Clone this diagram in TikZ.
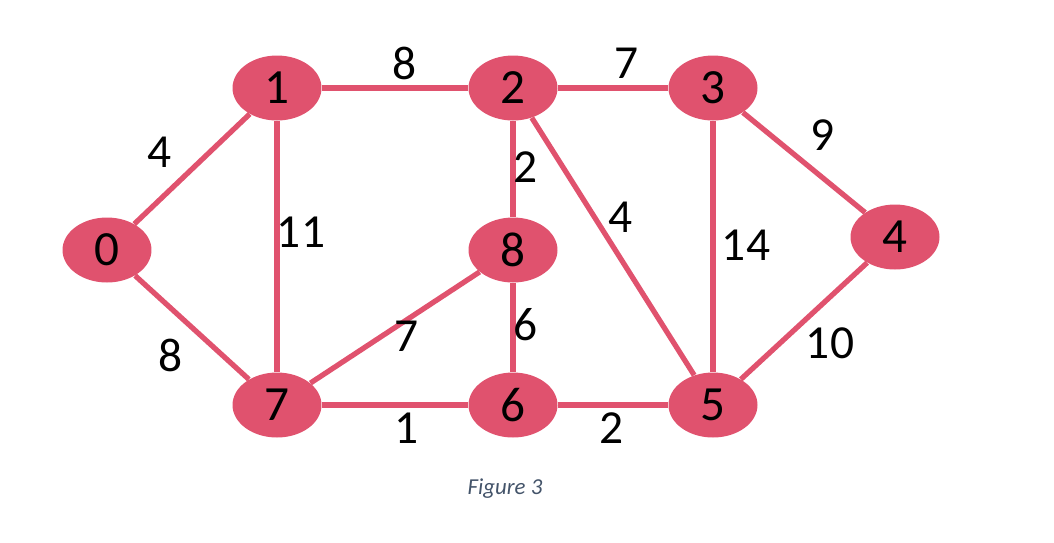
\documentclass[tikz,border=0pt]{standalone}
\usepackage{fontspec}
\setmainfont{Carlito}
\usepackage{tikz}
\usetikzlibrary{shapes,positioning,calc}
\definecolor{vertex}{RGB}{224,82,110}
\definecolor{capcol}{RGB}{68,84,106}
\tikzset{
  vert/.style={ellipse,fill=vertex,minimum width=1.78cm,minimum height=1.3cm,inner sep=0pt,font=\fontsize{28}{28}\selectfont},
  wt/.style={inner sep=0pt,font=\fontsize{27}{27}\selectfont},
  edge/.style={draw=vertex,line width=3pt}
}
\begin{document}
\begin{tikzpicture}[x=0.02cm,y=-0.02cm]
\useasboundingbox (0,0) rectangle (1054,542);
% vertices
\node[vert] (v0) at (107,250) {0};
\node[vert] (v1) at (277,88) {1};
\node[vert] (v2) at (513,88) {2};
\node[vert] (v3) at (713,88) {3};
\node[vert] (v4) at (895,237) {4};
\node[vert] (v8) at (513,250) {8};
\node[vert] (v7) at (277,405) {7};
\node[vert] (v6) at (513,405) {6};
\node[vert] (v5) at (713,405) {5};
% edges
\draw[edge] (v0) -- (v1);
\draw[edge] (v0) -- (v7);
\draw[edge] (v1) -- (v2);
\draw[edge] (v1) -- (v7);
\draw[edge] (v2) -- (v3);
\draw[edge] (v2) -- (v8);
\draw[edge] (v2) -- (v5);
\draw[edge] (v3) -- (v4);
\draw[edge] (v3) -- (v5);
\draw[edge] (v4) -- (v5);
\draw[edge] (v8) -- (v7);
\draw[edge] (v8) -- (v6);
\draw[edge] (v7) -- (v6);
\draw[edge] (v6) -- (v5);
% weights
\node[wt] (w12) at (405,63) {8};
\node[wt] (w23) at (627,63) {7};
\node[wt] (w01) at (160,152) {4};
\node[wt] (w34) at (823,135) {9};
\node[wt] (w17) at (301,232) {11};
\node[wt] (w28) at (526,167) {2};
\node[wt] (w25) at (621,217) {4};
\node[wt] (w35) at (746,245) {14};
\node[wt] (w07) at (171,355) {8};
\node[wt] (w87) at (407,336) {7};
\node[wt] (w86) at (526,325) {6};
\node[wt] (w45) at (830,343) {10};
\node[wt] (w76) at (407,428) {1};
\node[wt] (w65) at (612,428) {2};
% caption
\node[font=\fontsize{13}{14}\selectfont\itshape,text=capcol] (cap) at (505,489) {Figure 3};
\end{tikzpicture}
\end{document}
